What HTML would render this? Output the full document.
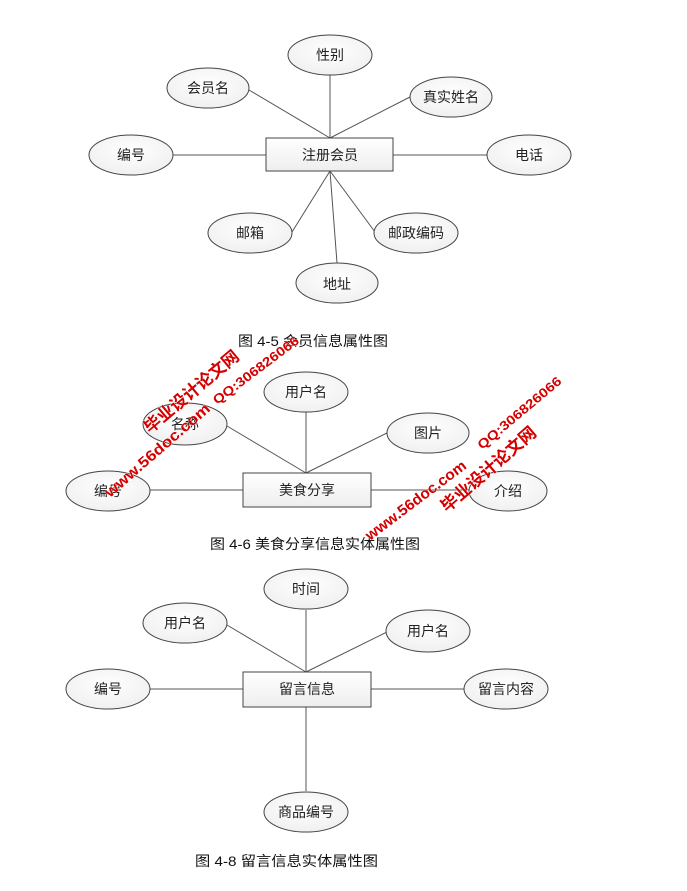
<!DOCTYPE html>
<html><head><meta charset="utf-8"><style>
html,body{margin:0;padding:0;background:#fff;}
svg{display:block;}
text{font-family:"Liberation Sans","Noto Sans CJK SC",sans-serif;}
.l{font-size:14px;fill:#222;text-anchor:middle;dominant-baseline:central;}
.c{font-size:14px;fill:#111;}
.w{font-weight:bold;fill:#d40000;stroke:#fff;stroke-width:0.6;paint-order:stroke;}
</style></head><body>
<svg width="687" height="891" viewBox="0 0 687 891" xmlns="http://www.w3.org/2000/svg">
<defs>
<radialGradient id="g" cx="50%" cy="40%" r="60%"><stop offset="0" stop-color="#fff"/><stop offset="1" stop-color="#f0f0f0"/></radialGradient>
<linearGradient id="r" x1="0" y1="0" x2="0" y2="1"><stop offset="0" stop-color="#fff"/><stop offset="1" stop-color="#eee"/></linearGradient>
</defs>
<g stroke="#555" stroke-width="1" fill="none">
<line x1="330" y1="75" x2="330" y2="138"/>
<line x1="249" y1="90" x2="330" y2="138"/>
<line x1="410" y1="97" x2="330" y2="138"/>
<line x1="173" y1="155" x2="266" y2="155"/>
<line x1="393" y1="155" x2="487" y2="155"/>
<line x1="330" y1="171" x2="292" y2="232"/>
<line x1="330" y1="171" x2="375" y2="232"/>
<line x1="330" y1="171" x2="337" y2="263"/>
<line x1="306" y1="412" x2="306" y2="473"/>
<line x1="227" y1="426" x2="306" y2="473"/>
<line x1="387" y1="433" x2="306" y2="473"/>
<line x1="149" y1="490" x2="243" y2="490"/>
<line x1="371" y1="490" x2="470" y2="490"/>
<line x1="306" y1="610" x2="306" y2="672"/>
<line x1="227" y1="625" x2="306" y2="672"/>
<line x1="387" y1="632" x2="306" y2="672"/>
<line x1="149" y1="689" x2="243" y2="689"/>
<line x1="371" y1="689" x2="464" y2="689"/>
<line x1="306" y1="707" x2="306" y2="791"/>
</g>
<g stroke="#444" stroke-width="1" fill="url(#g)">
<ellipse cx="330" cy="55" rx="42" ry="20"/>
<ellipse cx="208" cy="88" rx="41" ry="20"/>
<ellipse cx="451" cy="97" rx="41" ry="20"/>
<ellipse cx="131" cy="155" rx="42" ry="20"/>
<ellipse cx="529" cy="155" rx="42" ry="20"/>
<ellipse cx="250" cy="233" rx="42" ry="20"/>
<ellipse cx="416" cy="233" rx="42" ry="20"/>
<ellipse cx="337" cy="283" rx="41" ry="20"/>
<ellipse cx="306" cy="392" rx="42" ry="20"/>
<ellipse cx="185" cy="424" rx="42" ry="21"/>
<ellipse cx="428" cy="433" rx="41" ry="20"/>
<ellipse cx="108" cy="491" rx="42" ry="20"/>
<ellipse cx="508" cy="491" rx="39" ry="20"/>
<ellipse cx="306" cy="589" rx="42" ry="20"/>
<ellipse cx="185" cy="623" rx="42" ry="20"/>
<ellipse cx="428" cy="631" rx="42" ry="21"/>
<ellipse cx="108" cy="689" rx="42" ry="20"/>
<ellipse cx="506" cy="689" rx="42" ry="20"/>
<ellipse cx="306" cy="812" rx="42" ry="20"/>
</g>
<g stroke="#444" stroke-width="1" fill="url(#r)">
<rect x="266" y="138" width="127" height="33"/>
<rect x="243" y="473" width="128" height="34"/>
<rect x="243" y="672" width="128" height="35"/>
</g>
<g class="l">
<text x="330" y="55">性别</text>
<text x="208" y="88">会员名</text>
<text x="451" y="97">真实姓名</text>
<text x="131" y="155">编号</text>
<text x="529" y="155">电话</text>
<text x="330" y="155">注册会员</text>
<text x="250" y="233">邮箱</text>
<text x="416" y="233">邮政编码</text>
<text x="337" y="284">地址</text>
<text x="306" y="392">用户名</text>
<text x="185" y="424">名称</text>
<text x="428" y="433">图片</text>
<text x="108" y="491">编号</text>
<text x="508" y="491">介绍</text>
<text x="307" y="490">美食分享</text>
<text x="306" y="589">时间</text>
<text x="185" y="623">用户名</text>
<text x="428" y="631">用户名</text>
<text x="108" y="689">编号</text>
<text x="506" y="689">留言内容</text>
<text x="307" y="689">留言信息</text>
<text x="306" y="812">商品编号</text>
</g>
<g class="c">
<text x="238" y="346" textLength="150" lengthAdjust="spacingAndGlyphs">图 4-5 会员信息属性图</text>
<text x="210" y="549" textLength="210" lengthAdjust="spacingAndGlyphs">图 4-6 美食分享信息实体属性图</text>
<text x="195" y="866" textLength="183" lengthAdjust="spacingAndGlyphs">图 4-8 留言信息实体属性图</text>
</g>
<g class="w">
<text font-size="17" transform="translate(150,434) rotate(-40)" textLength="118" lengthAdjust="spacingAndGlyphs">毕业设计论文网</text>
<text font-size="15" transform="translate(110,498) rotate(-41)" textLength="134" lengthAdjust="spacingAndGlyphs">www.56doc.com</text>
<text font-size="13" transform="translate(217,405) rotate(-37)" textLength="104" lengthAdjust="spacingAndGlyphs">QQ:306826066</text>
<text font-size="15" transform="translate(370,541) rotate(-37)" textLength="122" lengthAdjust="spacingAndGlyphs">www.56doc.com</text>
<text font-size="17" transform="translate(447,513) rotate(-41)" textLength="120" lengthAdjust="spacingAndGlyphs">毕业设计论文网</text>
<text font-size="13" transform="translate(482,450) rotate(-40)" textLength="105" lengthAdjust="spacingAndGlyphs">QQ:306826066</text>
</g>
</svg>
</body></html>
